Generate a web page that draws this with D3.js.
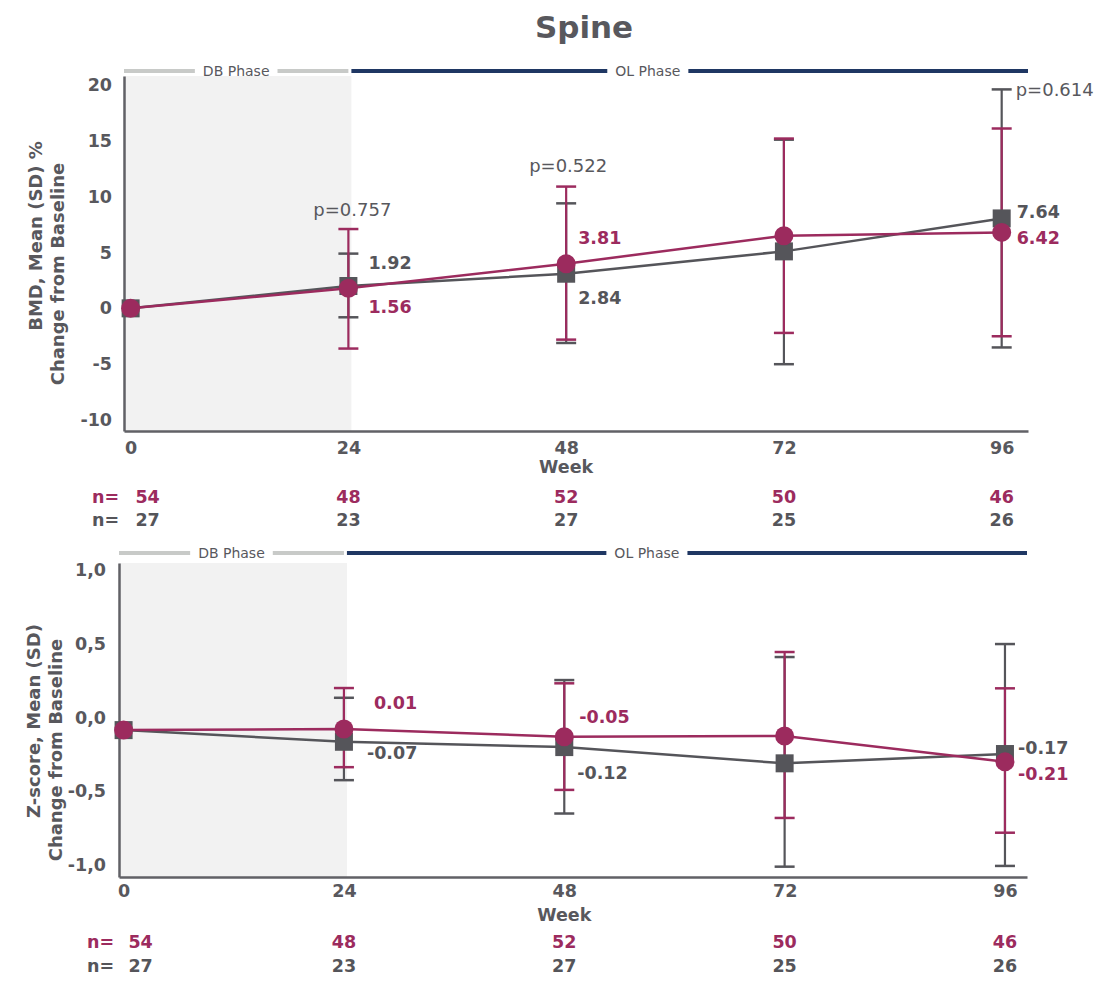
<!DOCTYPE html>
<html>
<head>
<meta charset="utf-8">
<script src="https://cdn.jsdelivr.net/npm/d3@7"></script>
<style>
  body { margin: 0; background: #fff; }
  text { font-family: "DejaVu Sans", sans-serif; }
</style>
</head>
<body>
<svg id="chart" width="1114" height="981"></svg>
<script>
// ---- data ----
const weeks = [0, 24, 48, 72, 96];
const weekLabels = ["0", "24", "48", "72", "96"];
const nMag = [54, 48, 52, 50, 46];
const nGray = [27, 23, 27, 25, 26];

// BMD % change from baseline (marker positions and SD bar ends)
const bmdMag = [0, 1.8, 4.0, 6.5, 6.8];
const bmdMagLo = [null, -3.6, -2.8, -2.2, -2.5];
const bmdMagHi = [null, 7.1, 10.9, 15.2, 16.1];
const bmdGray = [0, 2.0, 3.1, 5.1, 8.05];
const bmdGrayLo = [null, -0.8, -3.1, -5.0, -3.5];
const bmdGrayHi = [null, 4.9, 9.4, 15.1, 19.6];
const bmdTicks = [20, 15, 10, 5, 0, -5, -10];
const bmdMagText = [null, "1.56", "3.81", null, "6.42"];
const bmdGrayText = [null, "1.92", "2.84", null, "7.64"];
const bmdP = [null, "p=0.757", "p=0.522", null, "p=0.614"];

// Z-score change from baseline
const zMag = [-0.085, -0.078, -0.13, -0.125, -0.30];
const zMagLo = [null, -0.336, -0.49, -0.68, -0.78];
const zMagHi = [null, 0.20, 0.232, 0.444, 0.198];
const zGray = [-0.085, -0.164, -0.20, -0.31, -0.247];
const zGrayLo = [null, -0.424, -0.65, -1.01, -1.005];
const zGrayHi = [null, 0.134, 0.254, 0.41, 0.498];
const zTicks = [1, 0.5, 0, -0.5, -1];
const zMagText = [null, "0.01", "-0.05", null, "-0.21"];
const zGrayText = [null, "-0.07", "-0.12", null, "-0.17"];

// ---- style ----
const C = {
  mag: "#9c2b5e", gray: "#55555a", text: "#58585d", axis: "#616166",
  navy: "#1f3763", db: "#c8cac8", shade: "#f2f2f2"
};

const svg = d3.select("#chart");

svg.append("text")
  .attr("x", 584).attr("y", 27)
  .attr("text-anchor", "middle").attr("dominant-baseline", "central")
  .attr("font-size", 31).attr("font-weight", "bold").attr("fill", C.text)
  .text("Spine");

function panel(o) {
  const g = svg.append("g");
  const x = d3.scaleLinear().domain(o.xDom).range(o.xRange);
  const y = d3.scaleLinear().domain(o.yDom).range(o.yRange);
  const [x0, x1] = o.xRange;
  const [yb, yt] = o.yRange;

  // DB phase shading
  g.append("rect")
    .attr("x", x0).attr("y", yt)
    .attr("width", x(24) - x0 + 3).attr("height", yb - yt)
    .attr("fill", C.shade);

  // phase bars with labels
  function phase(a, b, cx, label, color) {
    const t = g.append("text")
      .attr("x", cx).attr("y", o.phaseY)
      .attr("text-anchor", "middle").attr("dominant-baseline", "central")
      .attr("font-size", 14).attr("fill", C.text)
      .text(label);
    const w = t.node().getComputedTextLength();
    g.append("line").attr("x1", a).attr("x2", cx - w / 2 - 8)
      .attr("y1", o.phaseY).attr("y2", o.phaseY)
      .attr("stroke", color).attr("stroke-width", 4);
    g.append("line").attr("x1", cx + w / 2 + 8).attr("x2", b)
      .attr("y1", o.phaseY).attr("y2", o.phaseY)
      .attr("stroke", color).attr("stroke-width", 4);
  }
  phase(x0, x(24), (x0 + x(24)) / 2, "DB Phase", C.db);
  phase(x(24) + 3, x1, x(57), "OL Phase", C.navy);

  // axes
  const yAxis = g.append("g")
    .attr("transform", `translate(${x0},0)`)
    .call(d3.axisLeft(y).tickValues(o.yTicks).tickFormat(o.yFmt).tickSize(0).tickPadding(o.yPad));
  yAxis.select(".domain").attr("stroke", C.axis).attr("stroke-width", 2.5);
  yAxis.selectAll("text")
    .attr("font-size", 17.5).attr("font-weight", "bold").attr("fill", C.text)
    .attr("font-family", "DejaVu Sans");

  const xAxis = g.append("g")
    .attr("transform", `translate(0,${yb})`)
    .call(d3.axisBottom(x).tickValues(weeks).tickFormat((d, i) => weekLabels[i]).tickSize(0).tickPadding(o.xPad));
  xAxis.select(".domain").attr("stroke", C.axis).attr("stroke-width", 2.5);
  xAxis.selectAll("text")
    .attr("font-size", 17.5).attr("font-weight", "bold").attr("fill", C.text)
    .attr("font-family", "DejaVu Sans");

  g.append("text")
    .attr("x", x(48)).attr("y", o.weekY)
    .attr("text-anchor", "middle").attr("dominant-baseline", "central")
    .attr("font-size", 17.5).attr("font-weight", "bold").attr("fill", C.text)
    .text("Week");

  // y titles
  o.yTitle.forEach(t => {
    g.append("text")
      .attr("transform", `translate(${t.x},${t.y}) rotate(-90)`)
      .attr("text-anchor", "middle").attr("dominant-baseline", "central")
      .attr("font-size", 18).attr("font-weight", "bold").attr("fill", C.text)
      .text(t.text);
  });

  // n rows
  [[nMag, C.mag, o.nY[0]], [nGray, C.gray, o.nY[1]]].forEach(([arr, col, yy]) => {
    g.append("text").attr("x", x0 - 32).attr("y", yy)
      .attr("dominant-baseline", "central")
      .attr("font-size", 17.5).attr("font-weight", "bold").attr("fill", col)
      .text("n=");
    g.selectAll(null).data(arr).join("text")
      .attr("x", (d, i) => x(weeks[i]) + (i === 0 ? 17 : 0))
      .attr("y", yy)
      .attr("text-anchor", "middle").attr("dominant-baseline", "central")
      .attr("font-size", 17.5).attr("font-weight", "bold").attr("fill", col)
      .text(d => d);
  });

  // error bars
  function errBars(lo, hi, col) {
    weeks.forEach((w, i) => {
      if (lo[i] === null) return;
      const cx = x(w);
      g.append("line").attr("x1", cx).attr("x2", cx)
        .attr("y1", y(lo[i])).attr("y2", y(hi[i]))
        .attr("stroke", col).attr("stroke-width", 2.2);
      [lo[i], hi[i]].forEach(v => {
        g.append("line").attr("x1", cx - 10).attr("x2", cx + 10)
          .attr("y1", y(v)).attr("y2", y(v))
          .attr("stroke", col).attr("stroke-width", 2.5);
      });
    });
  }
  errBars(o.grayLo, o.grayHi, C.gray);
  errBars(o.magLo, o.magHi, C.mag);

  const line = d3.line().x((d, i) => x(weeks[i])).y(d => y(d));
  g.append("path").datum(o.gray).attr("d", line)
    .attr("fill", "none").attr("stroke", C.gray).attr("stroke-width", 2.5);
  g.append("path").datum(o.mag).attr("d", line)
    .attr("fill", "none").attr("stroke", C.mag).attr("stroke-width", 2.5);

  g.selectAll(null).data(o.gray).join("rect")
    .attr("x", (d, i) => x(weeks[i]) - 9).attr("y", d => y(d) - 9)
    .attr("width", 18).attr("height", 18).attr("fill", C.gray);
  g.selectAll(null).data(o.mag).join("circle")
    .attr("cx", (d, i) => x(weeks[i])).attr("cy", d => y(d)).attr("r", 9.5)
    .attr("fill", C.mag);

  // value labels
  function labels(texts, vals, col, lay) {
    texts.forEach((t, i) => {
      if (t === null) return;
      g.append("text")
        .attr("x", x(weeks[i]) + lay[i][0]).attr("y", y(vals[i]) + lay[i][1])
        .attr("dominant-baseline", "central")
        .attr("font-size", 17.5).attr("font-weight", "bold").attr("fill", col)
        .text(t);
    });
  }
  labels(o.magText, o.mag, C.mag, o.magLay);
  labels(o.grayText, o.gray, C.gray, o.grayLay);

  if (o.pText) {
    o.pText.forEach((t, i) => {
      if (t === null) return;
      const [dx, dy, anchor] = o.pLay[i];
      g.append("text")
        .attr("x", x(weeks[i]) + dx)
        .attr("y", y(Math.max(o.magHi[i], o.grayHi[i])) + dy)
        .attr("text-anchor", anchor).attr("dominant-baseline", "central")
        .attr("font-size", 18).attr("fill", C.text)
        .text(t);
    });
  }
}

panel({
  xDom: [-0.73, 98.9], xRange: [124, 1028],
  yDom: [-10.98, 20.8], yRange: [431, 76],
  yTicks: bmdTicks, yFmt: d => String(d), yPad: 12, xPad: 11,
  phaseY: 71, weekY: 467, nY: [497, 520],
  yTitle: [
    { x: 35, y: 236, text: "BMD, Mean (SD) %" },
    { x: 57, y: 274, text: "Change from Baseline" }
  ],
  mag: bmdMag, magLo: bmdMagLo, magHi: bmdMagHi,
  gray: bmdGray, grayLo: bmdGrayLo, grayHi: bmdGrayHi,
  magText: bmdMagText, grayText: bmdGrayText,
  magLay: [null, [20, 19], [12, -26], null, [15, 6]],
  grayLay: [null, [20, -23], [12, 24], null, [15, -6]],
  pText: bmdP,
  pLay: [null, [4, -20, "middle"], [2, -21, "middle"], null, [14, 0, "start"]]
});

panel({
  xDom: [-0.5, 98.4], xRange: [119, 1027],
  yDom: [-1.08, 1.047], yRange: [877, 563],
  yTicks: zTicks, yFmt: d => d.toFixed(1).replace(".", ","), yPad: 13, xPad: 8,
  phaseY: 553, weekY: 915, nY: [942, 966],
  yTitle: [
    { x: 33, y: 721, text: "Z-score, Mean (SD)" },
    { x: 55, y: 750, text: "Change from Baseline" }
  ],
  mag: zMag, magLo: zMagLo, magHi: zMagHi,
  gray: zGray, grayLo: zGrayLo, grayHi: zGrayHi,
  magText: zMagText, grayText: zGrayText,
  magLay: [null, [30, -26], [15, -20], null, [13, 12]],
  grayLay: [null, [23, 11], [13, 26], null, [13, -6]],
  pText: null
});
</script>
</body>
</html>
